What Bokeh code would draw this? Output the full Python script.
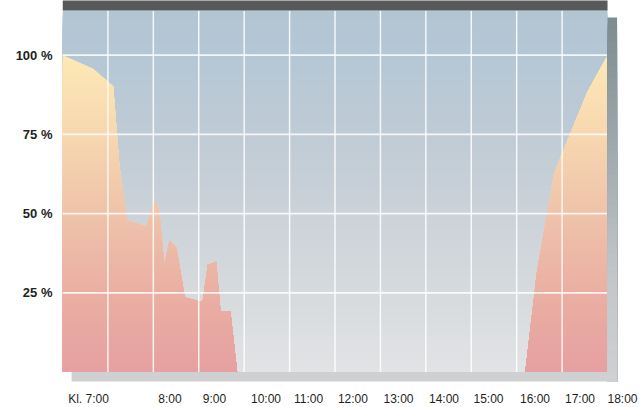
import numpy as np
from bokeh.plotting import figure
from bokeh.models import Range1d, FixedTicker
from bokeh.core.properties import value
from bokeh.embed import file_html
from bokeh.resources import INLINE

# ---- data ----
# position along the time axis (in grid-column units, 0 = left edge, 12 = right edge)
positions = [0.0, 0.676, 1.116, 1.255, 1.424, 1.849, 2.025, 2.129, 2.239, 2.356,
             2.51, 2.693, 3.083, 3.199, 3.384, 3.479, 3.699, 3.846,
             10.19, 10.45, 10.83, 11.55, 12.0]
percent = [100, 95.6, 90.1, 64.6, 47.8, 45.9, 54.4, 51.2, 33.9, 41.5,
           39.2, 23.6, 22.0, 33.9, 34.8, 19.2, 19.0, 0,
           0, 32.0, 63.0, 88.1, 100]

x_tick_positions = [0.572, 2.367, 3.347, 4.48, 5.416, 6.395, 7.398, 8.399, 9.38, 10.403, 11.394, 12.33]
x_tick_labels = ["Kl. 7:00", "8:00", "9:00", "10:00", "11:00", "12:00", "13:00",
                 "14:00", "15:00", "16:00", "17:00", "18:00"]
y_ticks = [25, 50, 75, 100]
y_tick_labels = ["25 %", "50 %", "75 %", "100 %"]
grid_columns = list(range(1, 12))

# ---- style helpers ----
def hex2rgb(h):
    h = h.lstrip("#")
    return np.array([int(h[i:i + 2], 16) for i in (0, 2, 4)], dtype=float)

def interp_color(v, stops):
    vs = [s[0] for s in stops]
    cols = np.array([hex2rgb(s[1]) for s in stops])
    rgb = [np.interp(v, vs, cols[:, i]) for i in range(3)]
    return "#%02x%02x%02x" % tuple(int(round(c)) for c in rgb)

area_stops = [(0, "#e6a0a1"), (25, "#eaafa3"), (50, "#efc3aa"), (75, "#f7d7b0"), (100, "#fde9b5")]
bg_stops = [(0, "#e2e3e5"), (25, "#d6dadd"), (50, "#cbd2d9"), (75, "#bfcbd5"), (100, "#b5c7d5"), (115, "#b2c5d3")]

X0, X1 = 0.0, 12.0
Y_BOTTOM, Y_TOP = -11.17, 117.22
BG_TOP = 114.07
SHADOW_BOTTOM = -2.965
LABEL_Y = -8.64

p = figure(width=640, height=407, output_backend="svg", toolbar_location=None,
           x_range=Range1d(0, 12.726), y_range=Range1d(Y_BOTTOM, Y_TOP),
           min_border_left=62, min_border_right=0, min_border_top=0, min_border_bottom=0)
p.outline_line_color = None
p.xgrid.visible = False
p.ygrid.visible = False
p.xaxis.visible = False
p.background_fill_color = "white"
p.border_fill_color = "white"

# background gradient (stacked rectangles, drawn top band first)
nb = 120
tops = np.linspace(BG_TOP, 0, nb, endpoint=False)
step = BG_TOP / nb
bg_cols = [interp_color(t - step / 2, bg_stops) for t in tops]
p.quad(left=X0, right=X1, bottom=0, top=tops, fill_color=bg_cols, line_color=None)

# area with vertical gradient
def clip_top(xs, ys, h):
    ox, oy = [], []
    for i in range(len(xs)):
        if i > 0:
            y0, y1 = ys[i - 1], ys[i]
            if (y0 - h) * (y1 - h) < 0:
                t = (h - y0) / (y1 - y0)
                ox.append(xs[i - 1] + t * (xs[i] - xs[i - 1]))
                oy.append(h)
        ox.append(xs[i])
        oy.append(min(ys[i], h))
    return ox, oy

na = 100
levels = np.linspace(100, 0, na, endpoint=False)
astep = 100 / na
pxs, pys, acols = [], [], []
for h in levels:
    ox, oy = clip_top(positions, percent, h)
    pxs.append(ox + [positions[-1], positions[0]])
    pys.append(oy + [0, 0])
    acols.append(interp_color(h - astep / 2, area_stops))
p.patches(pxs, pys, fill_color=acols, line_color=None)

# grid lines
p.segment(x0=grid_columns, y0=0, x1=grid_columns, y1=BG_TOP, line_color="white",
          line_alpha=0.85, line_width=1.5)
p.segment(x0=X0, y0=y_ticks, x1=X1, y1=y_ticks, line_color="white",
          line_alpha=0.85, line_width=1.6)

# shadows
ns = 60
sh_top = 111.86
s_tops = np.linspace(sh_top, SHADOW_BOTTOM, ns, endpoint=False)
s_cols = [interp_color(t, [(-3, "#cfd0d2"), (30, "#c3c7ca"), (sh_top, "#7d8c92")]) for t in s_tops]
p.quad(left=X1, right=12.21, bottom=SHADOW_BOTTOM, top=s_tops, fill_color=s_cols, line_color=None)
p.quad(left=[0.2], right=[12.21], bottom=[SHADOW_BOTTOM], top=[0], fill_color="#cfd0d2", line_color=None)

# title bar (cut off at the top)
p.quad(left=[X0], right=[X1], bottom=[BG_TOP], top=[Y_TOP + 2], fill_color="#58595b", line_color=None)

# x tick labels
p.text(x=x_tick_positions, y=LABEL_Y, text=x_tick_labels,
       text_font=value("Liberation Sans"), text_font_size=value("12px"),
       text_color="#231f20", text_align="center", text_baseline="middle")

# y axis
ya = p.yaxis[0]
ya.ticker = FixedTicker(ticks=y_ticks)
ya.major_label_overrides = {t: l for t, l in zip(y_ticks, y_tick_labels)}
ya.axis_line_color = None
ya.major_tick_line_color = None
ya.minor_tick_line_color = None
ya.major_tick_out = 0
ya.major_tick_in = 0
ya.major_label_standoff = 10
ya.major_label_text_font = "Liberation Sans"
ya.major_label_text_font_style = "bold"
ya.major_label_text_font_size = "13px"
ya.major_label_text_color = "#231f20"

open("out.html", "w").write(file_html(p, INLINE))
